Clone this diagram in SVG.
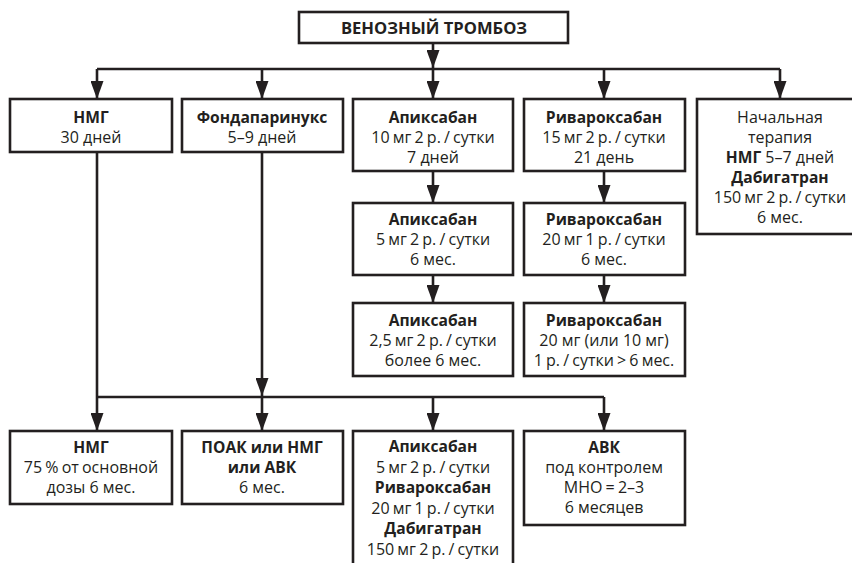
<svg xmlns="http://www.w3.org/2000/svg" width="852" height="563" viewBox="0 0 852 563">
<style>
.box{fill:#fff;stroke:#231f20;stroke-width:2.6}
.con{fill:none;stroke:#231f20;stroke-width:2.6}
text{font-family:"Open Sans","Noto Sans","Liberation Sans",sans-serif;font-size:16px;fill:#231f20;text-anchor:middle}
.b{font-weight:bold;font-size:15.6px}
.t{font-size:16.6px}
.s{word-spacing:-1px}
</style>
<defs>
<marker id="ah" viewBox="0 0 18 13" refX="18" refY="6.5" markerWidth="18" markerHeight="13" markerUnits="userSpaceOnUse" orient="auto">
<path d="M0,0 L18,6.5 L0,13 z" fill="#231f20"/>
</marker>
</defs>
<rect width="852" height="563" fill="#fff"/>
<g id="connectors">
<line class="con" x1="433" y1="43" x2="433" y2="68" marker-end="url(#ah)"/>
<line class="con" x1="97" y1="69" x2="780" y2="69"/>
<line class="con" x1="97" y1="69" x2="97" y2="99" marker-end="url(#ah)"/>
<line class="con" x1="262" y1="69" x2="262" y2="99" marker-end="url(#ah)"/>
<line class="con" x1="433" y1="69" x2="433" y2="99" marker-end="url(#ah)"/>
<line class="con" x1="604" y1="69" x2="604" y2="99" marker-end="url(#ah)"/>
<line class="con" x1="780" y1="69" x2="780" y2="99" marker-end="url(#ah)"/>
<line class="con" x1="433" y1="171" x2="433" y2="203" marker-end="url(#ah)"/>
<line class="con" x1="604" y1="171" x2="604" y2="203" marker-end="url(#ah)"/>
<line class="con" x1="433" y1="275" x2="433" y2="303" marker-end="url(#ah)"/>
<line class="con" x1="604" y1="275" x2="604" y2="303" marker-end="url(#ah)"/>
<line class="con" x1="97" y1="152" x2="97" y2="397"/>
<line class="con" x1="262" y1="152" x2="262" y2="396" marker-end="url(#ah)"/>
<line class="con" x1="97" y1="397" x2="604" y2="397"/>
<line class="con" x1="97" y1="397" x2="97" y2="431" marker-end="url(#ah)"/>
<line class="con" x1="262" y1="397" x2="262" y2="431" marker-end="url(#ah)"/>
<line class="con" x1="433" y1="397" x2="433" y2="431" marker-end="url(#ah)"/>
<line class="con" x1="604" y1="397" x2="604" y2="431" marker-end="url(#ah)"/>
</g>
<g id="root">
<rect class="box" x="299" y="12" width="269" height="31"/>
<text class="b t" x="434" y="34">ВЕНОЗНЫЙ ТРОМБОЗ</text>
</g>
<g id="nmg1">
<rect class="box" x="10" y="99" width="162" height="53"/>
<text x="91" y="123"><tspan class="b">НМГ</tspan><tspan x="91" dy="20">30 дней</tspan></text>
</g>
<g id="fonda">
<rect class="box" x="182" y="99" width="161" height="53"/>
<text x="262" y="123"><tspan class="b">Фондапаринукс</tspan><tspan x="262" dy="20">5–9 дней</tspan></text>
</g>
<g id="apix1">
<rect class="box" x="353" y="99" width="160" height="72"/>
<text x="433" y="123"><tspan class="b">Апиксабан</tspan><tspan x="433" dy="20" class="s">10 мг 2 р. / сутки</tspan><tspan x="433" dy="20">7 дней</tspan></text>
</g>
<g id="riva1">
<rect class="box" x="524" y="99" width="161" height="72"/>
<text x="604" y="123"><tspan class="b">Ривароксабан</tspan><tspan x="604" dy="20" class="s">15 мг 2 р. / сутки</tspan><tspan x="604" dy="20">21 день</tspan></text>
</g>
<g id="initial">
<rect class="box" x="697" y="99" width="166" height="135"/>
<text x="780" y="123"><tspan>Начальная</tspan><tspan x="780" dy="20">терапия</tspan><tspan x="780" dy="20"><tspan class="b">НМГ</tspan> 5–7 дней</tspan><tspan x="780" dy="20" class="b">Дабигатран</tspan><tspan x="780" dy="20" class="s">150 мг 2 р. / сутки</tspan><tspan x="780" dy="20">6 мес.</tspan></text>
</g>
<g id="apix2">
<rect class="box" x="353" y="203" width="160" height="72"/>
<text x="433" y="225"><tspan class="b">Апиксабан</tspan><tspan x="433" dy="20" class="s">5 мг 2 р. / сутки</tspan><tspan x="433" dy="20">6 мес.</tspan></text>
</g>
<g id="riva2">
<rect class="box" x="524" y="203" width="161" height="72"/>
<text x="604" y="225"><tspan class="b">Ривароксабан</tspan><tspan x="604" dy="20" class="s">20 мг 1 р. / сутки</tspan><tspan x="604" dy="20">6 мес.</tspan></text>
</g>
<g id="apix3">
<rect class="box" x="353" y="303" width="160" height="73"/>
<text x="433" y="326"><tspan class="b">Апиксабан</tspan><tspan x="433" dy="20" class="s">2,5 мг 2 р. / сутки</tspan><tspan x="433" dy="20">более 6 мес.</tspan></text>
</g>
<g id="riva3">
<rect class="box" x="524" y="303" width="161" height="73"/>
<text x="604" y="326"><tspan class="b">Ривароксабан</tspan><tspan x="604" dy="20">20 мг (или 10 мг)</tspan><tspan x="604" dy="20" class="s">1 р. / сутки &gt; 6 мес.</tspan></text>
</g>
<g id="nmg2">
<rect class="box" x="10" y="431" width="162" height="73"/>
<text x="91" y="453"><tspan class="b">НМГ</tspan><tspan x="91" dy="20" class="s">75 % от основной</tspan><tspan x="91" dy="20">дозы 6 мес.</tspan></text>
</g>
<g id="poak">
<rect class="box" x="182" y="431" width="161" height="73"/>
<text x="262" y="453"><tspan class="b">ПОАК или НМГ</tspan><tspan x="262" dy="20" class="b">или АВК</tspan><tspan x="262" dy="20">6 мес.</tspan></text>
</g>
<g id="noac">
<rect class="box" x="353" y="431" width="160" height="150"/>
<text x="433" y="452"><tspan class="b">Апиксабан</tspan><tspan x="433" dy="20.6" class="s">5 мг 2 р. / сутки</tspan><tspan x="433" dy="20.6" class="b">Ривароксабан</tspan><tspan x="433" dy="20.6" class="s">20 мг 1 р. / сутки</tspan><tspan x="433" dy="20.6" class="b">Дабигатран</tspan><tspan x="433" dy="20.6" class="s">150 мг 2 р. / сутки</tspan></text>
</g>
<g id="avk">
<rect class="box" x="524" y="431" width="161" height="94"/>
<text x="604" y="453"><tspan class="b">АВК</tspan><tspan x="604" dy="20">под контролем</tspan><tspan x="604" dy="20" class="s">МНО = 2–3</tspan><tspan x="604" dy="20">6 месяцев</tspan></text>
</g>
</svg>
